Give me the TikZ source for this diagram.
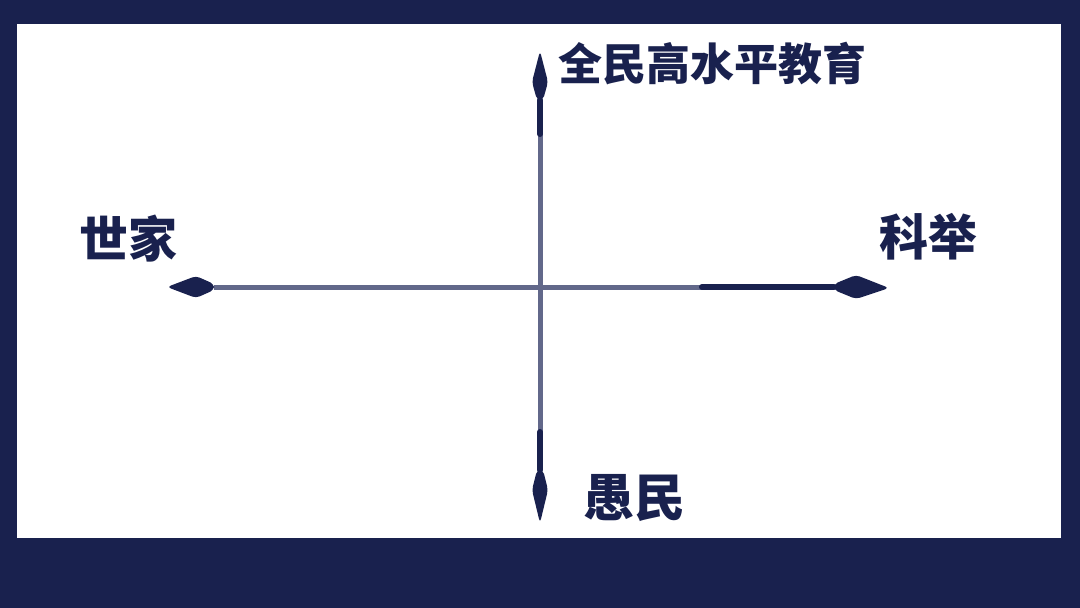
\documentclass[tikz,border=0pt]{standalone}
\usepackage{fontspec}
\newfontfamily\cjk{Noto Sans CJK SC}
\usepackage{tikz}

\definecolor{navy}{RGB}{25,33,78}
\definecolor{axisgray}{RGB}{98,104,138}

\begin{document}
\begin{tikzpicture}[x=1pt, y=-1pt,
    axis/.style={axisgray, line width=5pt},
    darkaxis/.style={navy, line width=6pt, line cap=round},
    tip/.style={fill=navy, rounded corners=4pt},
    label/.style={navy, font=\cjk\bfseries\fontsize{#1}{#1}\selectfont, inner sep=0pt},
    label/.default=44]

% Frame
\fill[navy] (0,0) rectangle (1080,608);
\fill[white] (17,24) rectangle (1061,538);

% Axis ends
\coordinate (O) at (540,287);
\coordinate (L) at (214,287);
\coordinate (R) at (834,287);
\coordinate (T) at (540,100);
\coordinate (B) at (540,470);

% Axes
\draw[axis] (L) -- (R);
\draw[axis] (T) -- (B);
\draw[darkaxis] (702,287) -- (R);
\draw[darkaxis] (T) -- (540,134);
\draw[darkaxis] (540,432) -- (B);

% Spear tips
\fill[tip] (L) ++(0,-3) -- (196,276) -- (167,287) -- (196,298) -- ++(18,-8) -- cycle;
\fill[tip] (R) ++(0,-3) -- (856,275) -- (889,288) -- (856,299) -- ++(-22,-9) -- cycle;
\fill[tip] (T) ++(-3,0) -- (532,82) -- (540,51) -- (548,82) -- ++(-5,18) -- cycle;
\fill[tip] (B) ++(-3,0) -- (532,490) -- (540,523) -- (548,490) -- ++(-5,-20) -- cycle;

% Labels
\node[label] (edu) at (712,64) {全民高水平教育};
\node[label=49] (shijia) at (128,239) {世家};
\node[label=49] (keju) at (928,237) {科举};
\node[label=51] (yumin) at (634,498) {愚民};

\end{tikzpicture}
\end{document}
